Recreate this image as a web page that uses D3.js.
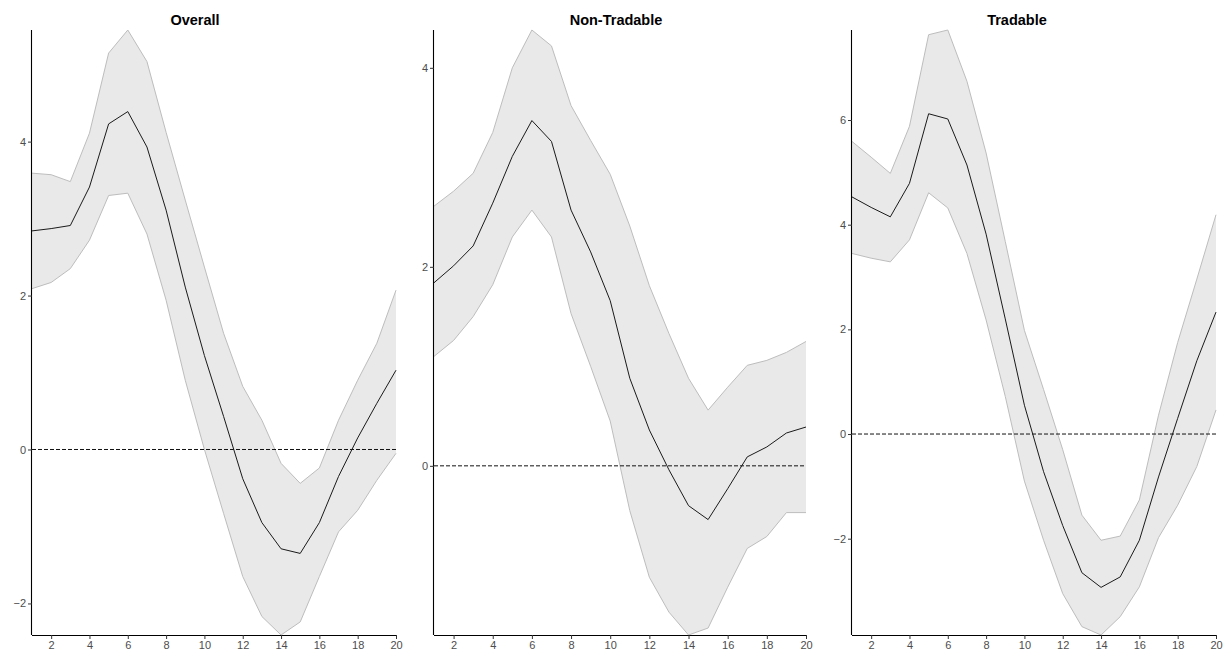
<!DOCTYPE html>
<html>
<head>
<meta charset="utf-8">
<script src="https://cdn.jsdelivr.net/npm/d3@7"></script>
<style>
  body { margin: 0; background: #fff; }
  svg { display: block; font-family: "Liberation Sans", Arial, sans-serif; }
</style>
</head>
<body>
<svg id="chart" width="1225" height="652"></svg>
<script>
const horizons = d3.range(1, 21)
const xTicks = [2, 4, 6, 8, 10, 12, 14, 16, 18, 20]

const titles = ['Overall', 'Non-Tradable', 'Tradable']

const overallMean = [2.84, 2.87, 2.91, 3.41, 4.23, 4.39, 3.93, 3.11, 2.11, 1.22, 0.43, -0.38, -0.95, -1.29, -1.35, -0.95, -0.35, 0.15, 0.60, 1.03]
const overallUpper = [3.59, 3.57, 3.48, 4.11, 5.15, 5.45, 5.04, 4.12, 3.24, 2.37, 1.51, 0.82, 0.38, -0.18, -0.44, -0.24, 0.38, 0.90, 1.38, 2.07]
const overallLower = [2.09, 2.17, 2.35, 2.72, 3.30, 3.33, 2.80, 1.94, 0.90, 0.00, -0.83, -1.65, -2.17, -2.41, -2.24, -1.65, -1.07, -0.79, -0.40, -0.05]
const overallTicks = [-2, 0, 2, 4]

const nonTradMean = [1.84, 2.01, 2.21, 2.64, 3.11, 3.47, 3.26, 2.57, 2.15, 1.66, 0.88, 0.36, -0.04, -0.40, -0.54, -0.23, 0.09, 0.19, 0.33, 0.39]
const nonTradUpper = [2.61, 2.76, 2.94, 3.35, 4.00, 4.38, 4.22, 3.62, 3.27, 2.93, 2.41, 1.81, 1.33, 0.88, 0.56, 0.79, 1.01, 1.06, 1.14, 1.25]
const nonTradLower = [1.10, 1.26, 1.50, 1.82, 2.30, 2.57, 2.30, 1.53, 1.00, 0.45, -0.45, -1.12, -1.47, -1.70, -1.63, -1.22, -0.83, -0.71, -0.47, -0.47]
const nonTradTicks = [0, 2, 4]

const tradMean = [4.53, 4.33, 4.15, 4.79, 6.12, 6.02, 5.14, 3.82, 2.20, 0.55, -0.72, -1.75, -2.65, -2.93, -2.73, -2.03, -0.82, 0.30, 1.40, 2.33]
const tradUpper = [5.59, 5.29, 4.98, 5.88, 7.63, 7.72, 6.74, 5.37, 3.68, 1.98, 0.85, -0.30, -1.55, -2.03, -1.95, -1.26, 0.36, 1.75, 2.96, 4.19]
const tradLower = [3.45, 3.36, 3.29, 3.71, 4.61, 4.32, 3.45, 2.18, 0.72, -0.90, -2.03, -3.05, -3.68, -3.84, -3.49, -2.92, -1.98, -1.36, -0.62, 0.46]
const tradTicks = [-2, 0, 2, 4, 6]

// panel frames in pixels (plot area), plus title centre
const panels = [
  {title: titles[0], mean: overallMean, upper: overallUpper, lower: overallLower, ticks: overallTicks, left: 32, right: 396, titleX: 195},
  {title: titles[1], mean: nonTradMean, upper: nonTradUpper, lower: nonTradLower, ticks: nonTradTicks, left: 434, right: 806, titleX: 616},
  {title: titles[2], mean: tradMean, upper: tradUpper, lower: tradLower, ticks: tradTicks, left: 852, right: 1216, titleX: 1017}
]
const plotTop = 30
const plotBottom = 635

const svg = d3.select('#chart')

let drawPanel = function (p) {
  let data = horizons.map((h, i) => ({x: h, m: p.mean[i], lo: p.lower[i], hi: p.upper[i]}))
  let xScale = d3.scaleLinear().domain([1, 20]).range([p.left, p.right])
  let yScale = d3.scaleLinear()
    .domain([d3.min(p.lower), d3.max(p.upper)])
    .range([plotBottom, plotTop])

  let g = svg.append('g')

  // confidence band
  g.append('path')
    .datum(data)
    .attr('d', d3.area().x(d => xScale(d.x)).y0(d => yScale(d.lo)).y1(d => yScale(d.hi)))
    .style('fill', '#e9e9e9')
    .style('stroke', 'none')
  ;['hi', 'lo'].forEach(k => {
    g.append('path')
      .datum(data)
      .attr('d', d3.line().x(d => xScale(d.x)).y(d => yScale(d[k])))
      .style('fill', 'none')
      .style('stroke', '#bdbdbd')
      .style('stroke-width', 1)
  })

  // zero line
  g.append('line')
    .attr('x1', xScale(1))
    .attr('x2', xScale(20))
    .attr('y1', yScale(0))
    .attr('y2', yScale(0))
    .style('stroke', '#111')
    .style('stroke-width', 1)
    .style('stroke-dasharray', '4,2')

  // point estimate
  g.append('path')
    .datum(data)
    .attr('d', d3.line().x(d => xScale(d.x)).y(d => yScale(d.m)))
    .style('fill', 'none')
    .style('stroke', '#1a1a1a')
    .style('stroke-width', 1)
    .style('stroke-linejoin', 'round')

  // axes
  let xAxis = g.append('g')
    .attr('transform', `translate(0,${plotBottom})`)
    .call(d3.axisBottom(xScale).tickValues(xTicks).tickSize(4).tickPadding(2))
  let yAxis = g.append('g')
    .attr('transform', `translate(${p.left},0)`)
    .call(d3.axisLeft(yScale).tickValues(p.ticks).tickSize(4).tickPadding(2).tickFormat(d3.format('d')))
  ;[xAxis, yAxis].forEach(a => {
    a.select('.domain').style('stroke', '#000').style('stroke-width', 1.1)
    a.selectAll('.tick line').style('stroke', '#333')
    a.selectAll('.tick text').style('fill', '#4d4d4d').style('font-size', '11px')
  })
  yAxis.select('.domain').attr('d', `M-0.5,${plotBottom}V${plotTop}`)
  xAxis.select('.domain').attr('d', `M${p.left},0.5H${p.right}`)

  // title
  svg.append('text')
    .attr('x', p.titleX)
    .attr('y', 25)
    .attr('text-anchor', 'middle')
    .style('font-size', '14.5px')
    .style('font-weight', 'bold')
    .style('fill', '#000')
    .text(p.title)
}

panels.forEach(drawPanel)
</script>
</body>
</html>
